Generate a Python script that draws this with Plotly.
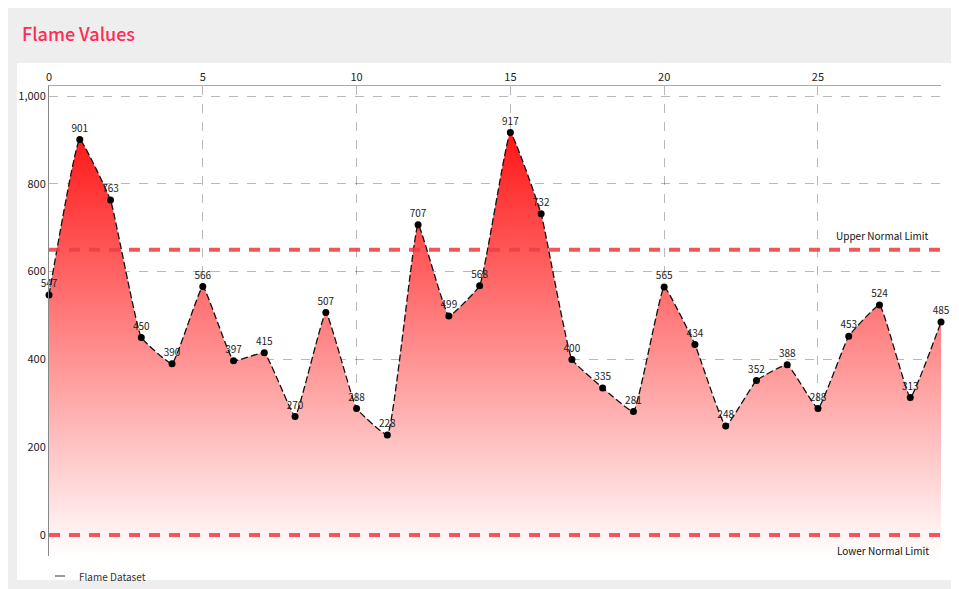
import plotly.graph_objects as go

# ---------------------------------------------------------------- data
index = list(range(30))
flame = [547, 901, 763, 450, 390, 566, 397, 415, 270, 507,
         288, 228, 707, 499, 568, 917, 732, 400, 335, 281,
         565, 434, 248, 352, 388, 288, 453, 524, 313, 485]
upper_limit = 650
lower_limit = 0
y_min, y_max = -48, 1023

# ---------------------------------------------------------------- style
font_family = "Noto Sans CJK KR, Noto Sans, sans-serif"
grid_color = "rgba(0,0,0,0.28)"
limit_color = "rgba(238,64,68,0.88)"
W, H = 943, 581  # page body keeps an 8px margin

fig = go.Figure()

# invisible base so the fill runs down to the bottom of the axis
fig.add_trace(go.Scatter(
    x=index, y=[y_min] * len(index),
    mode="lines", line={"width": 0},
    hoverinfo="skip", showlegend=False,
))

fig.add_trace(go.Scatter(
    x=index, y=flame,
    mode="lines+markers+text",
    text=[str(v) for v in flame],
    textposition="top center",
    textfont={"size": 10, "color": "#222", "family": font_family},
    line={"color": "#111", "width": 1.3, "dash": "7px,3px",
          "shape": "spline", "smoothing": 0.3},
    marker={"color": "#000", "size": 7},
    fill="tonexty",
    fillgradient={
        "type": "vertical",
        "start": y_min,
        "stop": 917,
        "colorscale": [[0, "rgba(255,255,255,1)"],
                       [1, "rgba(255,22,22,1)"]],
    },
    cliponaxis=False,
    showlegend=False,
    name="Flame Dataset",
))

# white card behind the chart
fig.add_shape(type="rect", xref="paper", yref="paper",
              x0=-0.0359, x1=1.03, y0=-0.051, y1=1.049,
              fillcolor="white", line={"width": 0}, layer="below")

for val in (upper_limit, lower_limit):
    fig.add_shape(type="line", xref="paper", yref="y",
                  x0=0, x1=1, y0=val, y1=val,
                  line={"color": limit_color, "width": 4, "dash": "11px,9px"})

fig.add_annotation(text="Upper Normal Limit", xref="paper", yref="y",
                   x=0.989, y=upper_limit, yshift=14, xanchor="right",
                   showarrow=False,
                   font={"size": 10, "color": "#111", "family": font_family})
fig.add_annotation(text="Lower Normal Limit", xref="paper", yref="y",
                   x=0.989, y=lower_limit, yshift=-16, xanchor="right",
                   showarrow=False,
                   font={"size": 10, "color": "#111", "family": font_family})

# legend drawn by hand so it does not push the bottom margin
fig.add_shape(type="line", xref="paper", yref="paper",
              x0=0.0067, x1=0.0179, y0=-0.0426, y1=-0.0426,
              line={"color": "#999", "width": 2})
fig.add_annotation(text="Flame Dataset", xref="paper", yref="paper",
                   x=0.0314, y=-0.0426, xanchor="left", yanchor="middle",
                   showarrow=False,
                   font={"size": 10, "color": "#333", "family": font_family})

fig.update_layout(
    width=W, height=H,
    margin={"l": 41, "r": 10, "t": 78, "b": 33},
    paper_bgcolor="#eeeeee",
    plot_bgcolor="white",
    showlegend=False,
    font={"family": font_family, "color": "#333", "size": 11},
    title={"text": "Flame Values", "x": 14 / W, "xanchor": "left",
           "xref": "container", "y": 1 - 27 / H, "yanchor": "middle",
           "font": {"size": 18, "color": "#ff2d55", "family": font_family,
                    "weight": 500}},
    xaxis={
        "side": "top", "range": [0, 29],
        "tickmode": "array", "tickvals": [0, 5, 10, 15, 20, 25],
        "showgrid": True, "gridcolor": grid_color, "gridwidth": 1.3,
        "griddash": "9px,9px", "zeroline": False,
        "showline": True, "linecolor": "#aaa", "linewidth": 1,
        "tickfont": {"size": 11, "color": "#222"},
    },
    yaxis={
        "range": [y_min, y_max],
        "tickmode": "array", "tickvals": [0, 200, 400, 600, 800, 1000],
        "tickformat": ",",
        "showgrid": True, "gridcolor": grid_color, "gridwidth": 1.3,
        "griddash": "9px,9px", "zeroline": False,
        "showline": True, "linecolor": "#888", "linewidth": 1,
        "tickfont": {"size": 11, "color": "#222"},
    },
)

fig.write_html("out.html")
